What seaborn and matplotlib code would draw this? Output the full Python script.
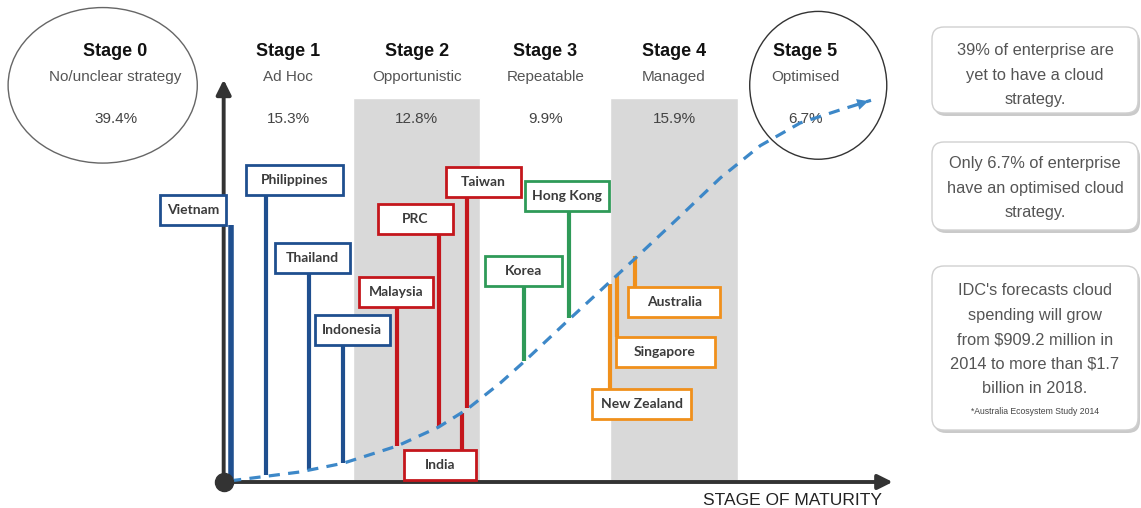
import matplotlib.pyplot as plt
import seaborn as sns
from matplotlib.patches import Ellipse, Rectangle, FancyBboxPatch

sns.set_theme(style="white")
plt.rcParams["font.family"] = ["Liberation Sans", "DejaVu Sans"]

# Stage headers
stage_titles = ["Stage 0", "Stage 1", "Stage 2", "Stage 3", "Stage 4", "Stage 5"]
stage_names = ["No/unclear strategy", "Ad Hoc", "Opportunistic", "Repeatable", "Managed", "Optimised"]
stage_share = [39.4, 15.3, 12.8, 9.9, 15.9, 6.7]
stage_pos = [-0.34, 1, 2, 3, 4, 5.02]
shaded_stages = [2, 4]

# Countries: maturity (x, stage units) and where the stem meets the adoption curve (y)
countries = ["Vietnam", "Philippines", "Thailand", "Indonesia", "Malaysia", "PRC", "Taiwan",
             "India", "Hong Kong", "Korea", "Australia", "Singapore", "New Zealand"]
country_stage = [1, 1, 1, 1, 2, 2, 2, 2, 3, 3, 4, 4, 4]
maturity = [0.56, 0.83, 1.16, 1.43, 1.85, 2.17, 2.39, 2.35, 3.18, 2.83, 3.70, 3.56, 3.50]
adoption = [0.5, 1.8, 3.1, 4.9, 9.4, 14.3, 19.3, 18.0, 42.7, 31.5, 58.9, 53.9, 51.6]
label_x = [0.26, 1.05, 1.19, 1.50, 1.84, 1.99, 2.52, 2.18, 3.17, 2.83, 4.00, 3.93, 3.75]
label_y = [70.8, 78.6, 58.3, 39.6, 49.5, 68.5, 78.1, 4.4, 74.5, 54.9, 46.9, 33.9, 20.2]
label_w = [0.51, 0.76, 0.58, 0.58, 0.58, 0.58, 0.58, 0.56, 0.65, 0.60, 0.71, 0.77, 0.77]

# Dashed adoption curve
curve_x = [0.55, 1.09, 1.43, 1.85, 2.17, 2.39, 2.65, 2.83, 3.18, 3.50, 3.70, 4.05, 4.36, 4.67, 4.98, 5.29]
curve_y = [0.3, 2.6, 4.9, 9.4, 14.3, 18.9, 25.8, 31.2, 42.2, 52.1, 58.3, 69.3, 79.2, 87.6, 93.5, 96.9]
curve_end = (5.53, 99.4)

# Side notes
notes = [
    "39% of enterprise are\nyet to have a cloud\nstrategy.",
    "Only 6.7% of enterprise\nhave an optimised cloud\nstrategy.",
    "IDC's forecasts cloud\nspending will grow\nfrom $909.2 million in\n2014 to more than $1.7\nbillion in 2018.",
]
footnote = "*Australia Ecosystem Study 2014"

stage_colors = {1: "#1f4f8f", 2: "#c4161c", 3: "#2f9a58", 4: "#f0901c"}
axis_color = "#333333"

fig = plt.figure(figsize=(11.41, 5.08), dpi=100)
ax = fig.add_axes([0, 0, 1, 1])
ax.set_xlim(-1.238, 7.628)
ax.set_ylim(-6.77, 125.52)
ax.axis("off")

# shaded stage columns
ax.bar(shaded_stages, [100] * len(shaded_stages), width=0.99, color="#d9d9d9", zorder=0)

# headers
for title, name, share, x in zip(stage_titles, stage_names, stage_share, stage_pos):
    ax.text(x, 112.0, title, ha="center", va="center", fontsize=13, fontweight="bold", color="#111111")
    ax.text(x, 105.4, name, ha="center", va="center", fontsize=11, color="#555555")
    ax.text(x, 94.5, f"{share}%", ha="center", va="center", fontsize=11, color="#444444")

ax.add_patch(Ellipse((-0.44, 103.3), 1.47, 40.5, fill=False, edgecolor="#666666", lw=1.0, zorder=3))
ax.add_patch(Ellipse((5.12, 103.3), 1.065, 38.5, fill=False, edgecolor="#333333", lw=1.0, zorder=3))

# axes arrows and origin
ax.annotate("", xy=(0.5, 105.5), xytext=(0.5, 0),
            arrowprops=dict(arrowstyle="-|>", mutation_scale=22, lw=2.8, color=axis_color), zorder=3)
ax.annotate("", xy=(5.72, 0), xytext=(0.5, 0),
            arrowprops=dict(arrowstyle="-|>", mutation_scale=22, lw=2.8, color=axis_color), zorder=3)
ax.plot([0.5], [0], marker="o", ms=13, color=axis_color, zorder=6)
ax.text(4.92, -4.8, "STAGE OF MATURITY", ha="center", va="center", fontsize=12.5, color="#222222")

# country stems and labels
box_h = 7.8
for name, st, mx, ad, lx, ly, lw in zip(countries, country_stage, maturity, adoption,
                                         label_x, label_y, label_w):
    c = stage_colors[st]
    start = ly - box_h / 2 if ly > ad else ly + box_h / 2
    ax.vlines(mx, min(start, ad), max(start, ad), color=c, lw=4 if name == "Vietnam" else 3, zorder=2)
    ax.add_patch(Rectangle((lx - lw / 2, ly - box_h / 2), lw, box_h, facecolor="white",
                           edgecolor=c, lw=2, zorder=4))
    ax.text(lx, ly, name, ha="center", va="center", fontsize=10, fontweight="bold",
            family=["Lato", "DejaVu Sans"], color="#3b3b3b", zorder=5)

# dashed curve
sns.lineplot(x=curve_x + [curve_end[0]], y=curve_y + [curve_end[1]], ax=ax, sort=False,
             color="#3d88c8", lw=2.3, linestyle=(0, (3.5, 2.6)), zorder=5)
ax.annotate("", xy=curve_end, xytext=(curve_x[-1], curve_y[-1]),
            arrowprops=dict(arrowstyle="-|>", mutation_scale=20, lw=0, color="#3d88c8"), zorder=5)

# right-hand notes in pixel units
axr = fig.add_axes([925 / 1141, 0, 216 / 1141, 1])
axr.set_xlim(925, 1141)
axr.set_ylim(508, 0)
axr.axis("off")
axr.patch.set_alpha(0)
note_boxes = [(27, 86), (142, 88), (266, 164)]
note_tops = [50, 163, 290]
for (top, h), txt, ty in zip(note_boxes, notes, note_tops):
    axr.add_patch(FancyBboxPatch((934, top + 3), 206, h, boxstyle="round,pad=0,rounding_size=12",
                                 facecolor="#a8a8a8", edgecolor="none", alpha=0.6, zorder=1))
    axr.add_patch(FancyBboxPatch((932, top), 206, h, boxstyle="round,pad=0,rounding_size=12",
                                 facecolor="white", edgecolor="#d0d0d0", lw=1, zorder=2))
    axr.text(1035, ty - 7, txt, ha="center", va="top", fontsize=11.8, color="#555555",
             linespacing=1.8, zorder=3)
axr.text(1035, 411, footnote, ha="center", va="center", fontsize=6.2, color="#444444", zorder=3)

fig.savefig("out.png", dpi=100)
